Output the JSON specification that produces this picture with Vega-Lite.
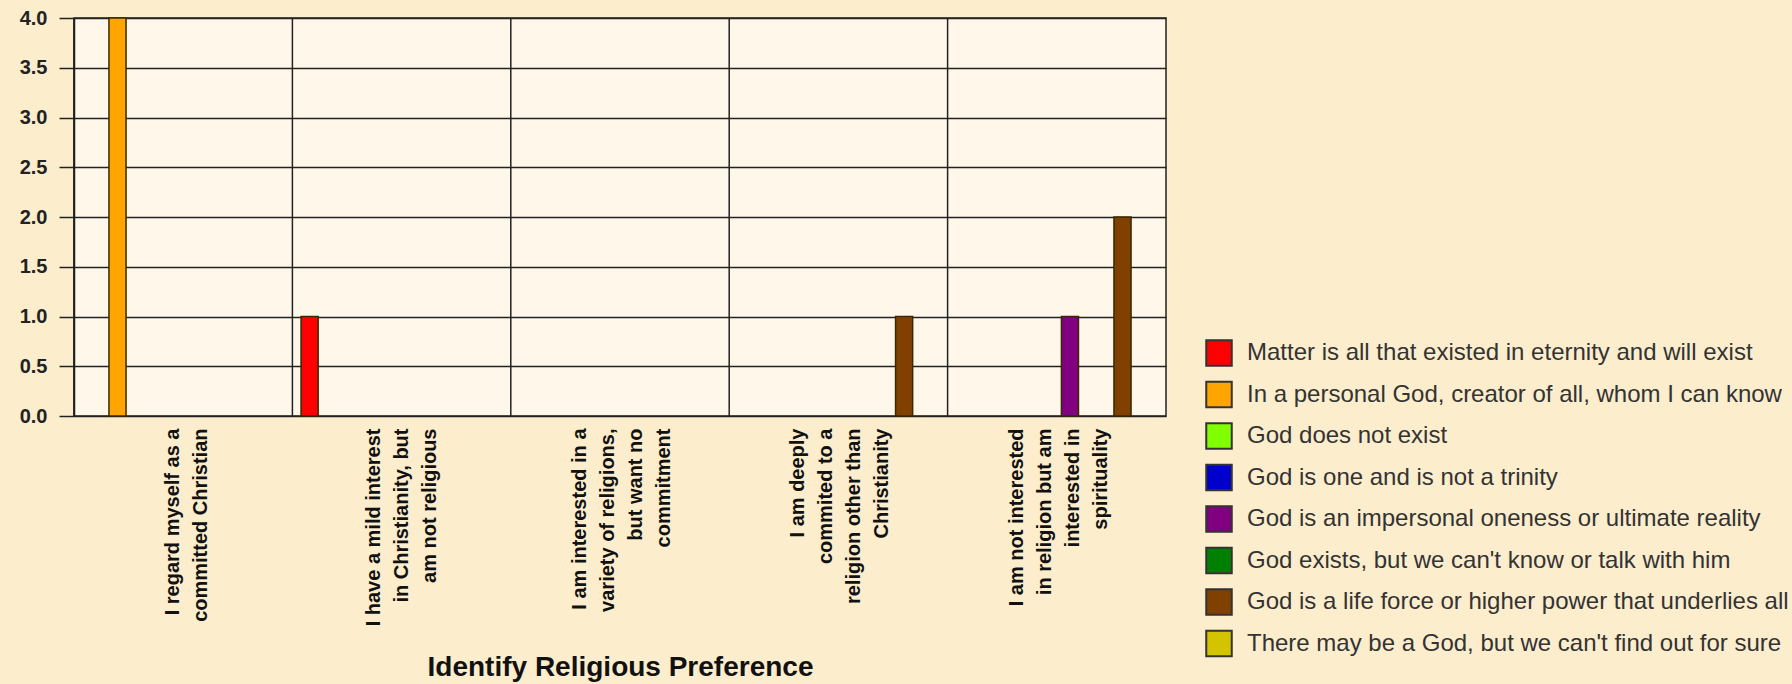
{
  "$schema": "https://vega.github.io/schema/vega-lite/v6.json",
  "width": 1092,
  "height": 398,
  "autosize": {"type": "none"},
  "padding": {"left": 74, "top": 18, "right": 626, "bottom": 268},
  "background": "#fcedcd",
  "config": {
    "view": {"stroke": "#222", "strokeWidth": 1.5, "fill": "#fff8ea"},
    "font": "Liberation Sans"
  },
  "datasets": {
    "counts": [
      {"group": "I regard myself as a|committed Christian", "belief": "In a personal God, creator of all, whom I can know", "count": 4},
      {"group": "I have a mild interest|in Christianity, but|am not religious", "belief": "Matter is all that existed in eternity and will exist", "count": 1},
      {"group": "I am deeply|commited to a|religion other than|Christianity", "belief": "God is a life force or higher power that underlies all", "count": 1},
      {"group": "I am not interested|in religion but am|interested in|spirituality", "belief": "God is an impersonal oneness or ultimate reality", "count": 1},
      {"group": "I am not interested|in religion but am|interested in|spirituality", "belief": "God is a life force or higher power that underlies all", "count": 2}
    ],
    "groups": [
      {"group": "I regard myself as a|committed Christian"},
      {"group": "I have a mild interest|in Christianity, but|am not religious"},
      {"group": "I am interested in a|variety of religions,|but want no|commitment"},
      {"group": "I am deeply|commited to a|religion other than|Christianity"},
      {"group": "I am not interested|in religion but am|interested in|spirituality"}
    ]
  },
  "layer": [
    {
      "data": {"name": "groups"},
      "mark": {"type": "rule", "color": "#222", "strokeWidth": 1.5},
      "encoding": {
        "x": {
          "field": "group", "type": "nominal", "bandPosition": 0, "sort": null,
          "scale": {"type": "band", "paddingInner": 0, "paddingOuter": 0,
            "domain": ["I regard myself as a|committed Christian", "I have a mild interest|in Christianity, but|am not religious", "I am interested in a|variety of religions,|but want no|commitment", "I am deeply|commited to a|religion other than|Christianity", "I am not interested|in religion but am|interested in|spirituality"]},
          "axis": {
            "title": "Identify Religious Preference", "titleFontSize": 28, "titleFontWeight": "bold", "titleColor": "#111", "titlePadding": 37,
            "labelAngle": -90, "labelFontSize": 20, "labelFontWeight": "bold", "labelColor": "#111", "labelLineHeight": 28,
            "labelPadding": 12, "labelLimit": 400, "ticks": false, "domain": false, "grid": false,
            "labelOffset": {"condition": [
              {"test": "length(split(datum.value, '|')) == 2", "value": -10},
              {"test": "length(split(datum.value, '|')) == 3", "value": -28}
            ], "value": -40},
            "labelExpr": "split(datum.label, '|')"
          }
        }
      }
    },
    {
      "data": {"name": "counts"},
      "mark": {"type": "bar", "stroke": "#3a2800", "strokeWidth": 1.5},
      "encoding": {
        "x": {
          "field": "group", "type": "nominal", "sort": null,
          "scale": {"type": "band", "paddingInner": 0, "paddingOuter": 0,
            "domain": ["I regard myself as a|committed Christian", "I have a mild interest|in Christianity, but|am not religious", "I am interested in a|variety of religions,|but want no|commitment", "I am deeply|commited to a|religion other than|Christianity", "I am not interested|in religion but am|interested in|spirituality"]},
          "axis": {
            "title": "Identify Religious Preference", "titleFontSize": 28, "titleFontWeight": "bold", "titleColor": "#111", "titlePadding": 37,
            "labelAngle": -90, "labelFontSize": 20, "labelFontWeight": "bold", "labelColor": "#111", "labelLineHeight": 28,
            "labelPadding": 12, "labelLimit": 400, "ticks": false, "domain": false, "grid": false,
            "labelOffset": {"condition": [
              {"test": "length(split(datum.value, '|')) == 2", "value": -10},
              {"test": "length(split(datum.value, '|')) == 3", "value": -28}
            ], "value": -40},
            "labelExpr": "split(datum.label, '|')"
          }
        },
        "xOffset": {
          "field": "belief", "type": "nominal",
          "scale": {"paddingInner": 0.35, "paddingOuter": 0.33,
            "domain": ["Matter is all that existed in eternity and will exist", "In a personal God, creator of all, whom I can know", "God does not exist", "God is one and is not a trinity", "God is an impersonal oneness or ultimate reality", "God exists, but we can't know or talk with him", "God is a life force or higher power that underlies all", "There may be a God, but we can't find out for sure"]}
        },
        "y": {
          "field": "count", "type": "quantitative",
          "scale": {"domain": [0, 4], "nice": false},
          "axis": {
            "title": null, "values": [0, 0.5, 1, 1.5, 2, 2.5, 3, 3.5, 4], "format": ".1f",
            "grid": true, "gridColor": "#222", "gridWidth": 1.5, "gridOpacity": 1,
            "tickSize": 15, "tickColor": "#222", "tickWidth": 1.5,
            "domain": true, "domainColor": "#222", "domainWidth": 1.5,
            "labelFontSize": 20, "labelFontWeight": "bold", "labelColor": "#222", "labelPadding": 12
          }
        },
        "color": {
          "field": "belief", "type": "nominal",
          "scale": {
            "domain": ["Matter is all that existed in eternity and will exist", "In a personal God, creator of all, whom I can know", "God does not exist", "God is one and is not a trinity", "God is an impersonal oneness or ultimate reality", "God exists, but we can't know or talk with him", "God is a life force or higher power that underlies all", "There may be a God, but we can't find out for sure"],
            "range": ["#ff0000", "#ffa500", "#80ff00", "#0000cc", "#800080", "#008000", "#804000", "#d4c400"]
          },
          "legend": {
            "orient": "none", "legendX": 1131, "legendY": 321, "title": null, "padding": 0,
            "symbolType": "square", "symbolSize": 650, "symbolStrokeColor": "#333", "symbolStrokeWidth": 2, "symbolOpacity": 1,
            "labelFontSize": 24, "labelColor": "#333", "labelOffset": 14, "rowPadding": 7.5, "labelLimit": 700
          }
        }
      }
    }
  ]
}
